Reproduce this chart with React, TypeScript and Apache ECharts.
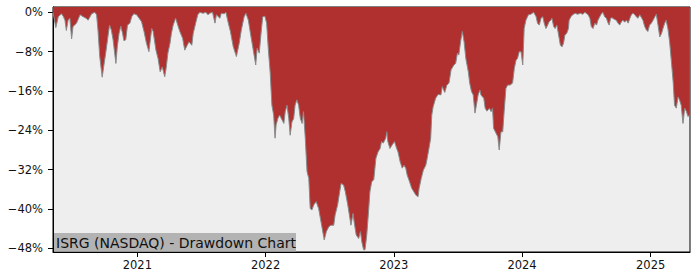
import React, { useEffect, useRef } from "react";
import * as echarts from "echarts";

const dates: string[] = [
  "2020-05-06","2020-05-14","2020-05-21","2020-05-30","2020-06-04","2020-06-09","2020-06-13","2020-06-18","2020-06-23","2020-06-28",
  "2020-07-02","2020-07-12","2020-07-22","2020-07-31","2020-08-08","2020-08-14","2020-08-24","2020-09-02","2020-09-07","2020-09-11",
  "2020-09-16","2020-09-23","2020-09-28","2020-10-03","2020-10-10","2020-10-14","2020-10-19","2020-10-24","2020-11-01","2020-11-05",
  "2020-11-10","2020-11-15","2020-11-20","2020-11-24","2020-11-29","2020-12-04","2020-12-11","2020-12-16","2020-12-22","2020-12-30",
  "2021-01-06","2021-01-13","2021-01-20","2021-01-27","2021-02-03","2021-02-08","2021-02-11","2021-02-15","2021-02-23","2021-03-01",
  "2021-03-07","2021-03-13","2021-03-20","2021-03-24","2021-03-29","2021-04-04","2021-04-08","2021-04-13","2021-04-20","2021-04-26",
  "2021-05-02","2021-05-10","2021-05-16","2021-05-23","2021-05-28","2021-06-05","2021-06-09","2021-06-16","2021-06-22","2021-06-28",
  "2021-07-07","2021-07-15","2021-07-21","2021-07-26","2021-08-03","2021-08-10","2021-08-14","2021-08-24","2021-08-28","2021-09-05",
  "2021-09-10","2021-09-17","2021-09-23","2021-10-01","2021-10-10","2021-10-18","2021-10-24","2021-11-01","2021-11-06","2021-11-13",
  "2021-11-19","2021-11-27","2021-12-04","2021-12-08","2021-12-14","2021-12-20","2021-12-24","2021-12-30",
  "2022-01-04","2022-01-09","2022-01-14","2022-01-19","2022-01-24","2022-01-28","2022-01-31","2022-02-05","2022-02-10","2022-02-17",
  "2022-02-22","2022-02-26","2022-03-03","2022-03-08","2022-03-12","2022-03-17","2022-03-22","2022-03-26","2022-03-31","2022-04-05",
  "2022-04-10","2022-04-15","2022-04-19","2022-04-24","2022-04-29","2022-05-04","2022-05-08","2022-05-13","2022-05-18","2022-05-25",
  "2022-06-01","2022-06-06","2022-06-11","2022-06-17","2022-06-23","2022-06-30","2022-07-06","2022-07-14","2022-07-18","2022-07-25",
  "2022-07-31","2022-08-04","2022-08-11","2022-08-16","2022-08-23","2022-08-29","2022-09-01","2022-09-07","2022-09-10","2022-09-16",
  "2022-09-23","2022-09-28","2022-10-02","2022-10-07","2022-10-11","2022-10-16","2022-10-21","2022-10-25","2022-10-30","2022-11-05",
  "2022-11-11","2022-11-17","2022-11-23","2022-11-27","2022-12-02","2022-12-09","2022-12-12","2022-12-15","2022-12-21","2022-12-27",
  "2023-01-03","2023-01-09","2023-01-13","2023-01-19","2023-01-25","2023-01-30","2023-02-04","2023-02-08","2023-02-15","2023-02-21",
  "2023-02-27","2023-03-05","2023-03-11","2023-03-14","2023-03-20","2023-03-26","2023-04-02","2023-04-06","2023-04-11","2023-04-16",
  "2023-04-19","2023-04-23","2023-04-30","2023-05-07","2023-05-15","2023-05-19","2023-05-26","2023-06-01","2023-06-07","2023-06-13",
  "2023-06-21","2023-06-26","2023-07-01","2023-07-05","2023-07-10","2023-07-15","2023-07-20","2023-07-25","2023-08-01","2023-08-05",
  "2023-08-10","2023-08-15","2023-08-20","2023-08-24","2023-08-29","2023-09-03","2023-09-06","2023-09-14","2023-09-18","2023-09-23",
  "2023-09-30","2023-10-05","2023-10-09","2023-10-12","2023-10-19","2023-10-24","2023-10-28","2023-11-02","2023-11-07","2023-11-11",
  "2023-11-16","2023-11-21","2023-11-28","2023-12-05","2023-12-10","2023-12-15","2023-12-19","2023-12-24","2023-12-29",
  "2024-01-03","2024-01-07","2024-01-12","2024-01-19","2024-01-26","2024-02-03","2024-02-10","2024-02-14","2024-02-19","2024-02-24",
  "2024-02-29","2024-03-04","2024-03-09","2024-03-14","2024-03-18","2024-03-23","2024-03-26","2024-03-31","2024-04-04","2024-04-09",
  "2024-04-14","2024-04-19","2024-04-24","2024-04-28","2024-05-02","2024-05-07","2024-05-12","2024-05-14","2024-05-19","2024-05-24",
  "2024-05-31","2024-06-07","2024-06-15","2024-06-22","2024-06-28","2024-07-07","2024-07-12","2024-07-16","2024-07-21","2024-07-26",
  "2024-07-31","2024-08-04","2024-08-12","2024-08-18","2024-08-23","2024-08-28","2024-09-02","2024-09-05","2024-09-09","2024-09-13",
  "2024-09-19","2024-09-25","2024-09-30","2024-10-05","2024-10-10","2024-10-14","2024-10-19","2024-10-24","2024-10-29","2024-11-03",
  "2024-11-07","2024-11-12","2024-11-17","2024-11-21","2024-11-26","2024-12-01","2024-12-06","2024-12-10","2024-12-15","2024-12-20",
  "2024-12-24","2024-12-29",
  "2025-01-03","2025-01-08","2025-01-13","2025-01-17","2025-01-22","2025-01-27","2025-02-01","2025-02-05","2025-02-10","2025-02-14",
  "2025-02-19","2025-02-24","2025-03-01","2025-03-06","2025-03-10","2025-03-15","2025-03-20","2025-03-24","2025-03-29","2025-04-03",
  "2025-04-08","2025-04-13","2025-04-17","2025-04-22",
];

const drawdown: number[] = [
  0,-3.1,-0.9,-0.3,-0.8,-1.6,-3.7,-1.6,-1.2,-5.4,
  -2.9,-2.2,-0.5,-0.9,-1.2,-1.6,-0.3,0,-0.5,-3.6,
  -9.0,-13.2,-10.7,-8.3,-4.6,-2.6,-3.6,-5.6,-10.4,-7.0,
  -4.3,-2.8,-4.3,-5.8,-5.6,-2.6,-2.2,-0.9,-0.3,-0.5,
  -1.2,-1.9,-3.9,-6.3,-8.0,-5.0,-3.3,-3.9,-7.7,-9.4,
  -12.1,-11.1,-13.1,-11.4,-8.3,-6.3,-4.3,-2.6,-1.2,-2.6,
  -3.9,-5.3,-7.7,-6.7,-6.0,-6.7,-4.3,-2.2,-0.5,0,
  -0.2,0,-0.5,-0.2,0,-2.2,-0.5,-1.2,-0.2,-0.3,
  0,-2.2,-3.9,-7.0,-9.0,-6.3,-3.6,-0.9,-0.2,-1.6,
  -4.3,-7.7,-10.7,-7.3,-8.3,-3.6,-0.9,-0.8,
  -2.2,-7.7,-12.1,-18.9,-20.9,-25.6,-22.9,-21.6,-20.9,-21.9,
  -22.6,-20.2,-18.9,-21.6,-25.0,-22.3,-21.6,-18.9,-17.8,-18.9,
  -21.6,-22.6,-20.2,-25.6,-32.4,-33.8,-39.9,-40.2,-39.2,-38.5,
  -39.9,-41.9,-43.9,-46.3,-44.6,-43.6,-43.3,-43.3,-41.2,-39.2,
  -36.5,-34.8,-35.1,-36.5,-39.2,-41.9,-43.3,-40.9,-42.6,-45.3,
  -46.0,-44.6,-46.7,-48.3,-48.3,-45.3,-40.6,-36.5,-34.5,-34.0,
  -29.7,-28.4,-27.7,-26.3,-26.6,-25.6,-24.3,-26.3,-27.7,-27.0,
  -26.3,-27.7,-28.4,-30.4,-31.7,-31.1,-31.7,-33.1,-34.5,-35.8,
  -36.5,-37.2,-37.5,-35.8,-33.8,-32.1,-31.1,-29.7,-27.7,-25.6,
  -20.9,-19.2,-17.5,-16.7,-16.8,-15.1,-16.3,-14.8,-14.4,-11.7,
  -10.7,-10.4,-8.3,-8.7,-6.0,-3.9,-6.0,-9.4,-12.1,-14.4,
  -16.1,-16.8,-20.5,-18.9,-16.8,-15.8,-16.8,-17.5,-19.5,-20.1,
  -19.5,-20.2,-19.5,-23.6,-24.6,-25.3,-28.0,-24.3,-24.3,-20.2,
  -15.5,-14.8,-14.8,-14.4,-11.4,-9.7,-9.4,-8.0,-8.0,
  -10.7,-3.3,-1.6,-0.5,-0.4,0,-0.9,-2.2,-2.6,-1.2,
  -0.9,-2.2,-3.3,-2.6,-1.9,-1.6,-1.2,-2.9,-3.3,-2.6,
  -4.6,-6.7,-7.0,-6.3,-4.6,-4.3,-3.3,-1.6,-0.9,-0.5,
  -0.2,-0.4,-0.2,-0.4,0,-0.5,-1.2,-2.9,-3.3,-2.2,
  -2.6,-1.6,-0.5,0,-0.9,-1.2,-2.2,-2.6,-1.2,-1.1,
  -1.4,-1.6,-2.2,-2.6,-1.9,-1.6,-2.0,-1.6,-2.2,-1.2,
  -0.5,-0.2,-0.5,-0.9,-1.2,-0.5,-1.1,-1.6,-2.9,-3.6,
  -3.9,-2.6,
  -2.2,-1.6,-0.9,-0.4,-2.6,-5.0,-4.3,-3.3,-2.2,-1.6,
  -3.3,-6.0,-10.0,-14.1,-18.9,-19.5,-17.2,-17.8,-18.9,-22.6,
  -19.5,-20.2,-21.2,-20.9,
];

const yearTicks: number[] = [2021, 2022, 2023, 2024, 2025];
const yTicks: number[] = [0, -8, -16, -24, -32, -40, -48];
const axisStart = "2020-05-06";
const axisEnd = "2025-04-23";
const titleText = "ISRG (NASDAQ) - Drawdown Chart";

function toTime(s: string): number {
  const [y, m, d] = s.split("-").map(Number);
  return new Date(y, m - 1, d).getTime();
}

export default function App() {
  const ref = useRef<HTMLDivElement>(null);

  useEffect(() => {
    if (!ref.current) return;
    const chart = echarts.init(ref.current, undefined, { renderer: "svg" });
    const font = "DejaVu Sans";
    const data = dates.map((d, i) => [toTime(d), drawdown[i]]);
    const yearValues = yearTicks.map((y) => new Date(y, 0, 1).getTime());

    chart.setOption({
      animation: false,
      backgroundColor: "#ffffff",
      grid: {
        left: 53,
        right: 10,
        top: 7,
        bottom: 28,
        show: true,
        backgroundColor: "#eeeeee",
        borderColor: "#000000",
        borderWidth: 1,
      },
      xAxis: {
        type: "value",
        min: toTime(axisStart),
        max: toTime(axisEnd),
        axisLine: { show: true, onZero: false, lineStyle: { color: "#000", width: 1 } },
        axisTick: {
          show: true,
          length: 5,
          customValues: yearValues,
          lineStyle: { color: "#000", width: 1 },
        },
        axisLabel: {
          customValues: yearValues,
          formatter: (v: number) => String(new Date(v).getFullYear()),
          fontFamily: font,
          fontSize: 11.5,
          color: "#111",
          margin: 7,
        },
        splitLine: { show: false },
      },
      yAxis: {
        type: "value",
        min: -48.75,
        max: 1.08,
        axisLine: { show: true, lineStyle: { color: "#000", width: 1 } },
        axisTick: {
          show: true,
          length: 5,
          customValues: yTicks,
          lineStyle: { color: "#000", width: 1 },
        },
        axisLabel: {
          customValues: yTicks,
          formatter: (v: number) => (v === 0 ? "0%" : "\u2212" + Math.abs(v) + "%"),
          fontFamily: font,
          fontSize: 11.5,
          color: "#111",
          margin: 10,
        },
        splitLine: { show: false },
      },
      series: [
        {
          type: "line",
          data,
          symbol: "none",
          lineStyle: { color: "#8a8a8a", width: 1 },
          areaStyle: { origin: "end", color: "#b03030", opacity: 1 },
          z: 2,
        },
      ],
      graphic: [
        {
          type: "rect",
          z: 100,
          shape: { x: 54, y: 233, width: 242, height: 18.5 },
          style: { fill: "#b3b3b3" },
        },
        {
          type: "text",
          z: 101,
          x: 56,
          y: 242.5,
          style: {
            text: titleText,
            font: `14px '${font}'`,
            fill: "#111",
            verticalAlign: "middle",
            align: "left",
          },
        },
      ],
    });

    return () => chart.dispose();
  }, []);

  return (
    <div
      ref={ref}
      style={{ position: "fixed", left: 0, top: 0, width: 700, height: 280 }}
    />
  );
}
